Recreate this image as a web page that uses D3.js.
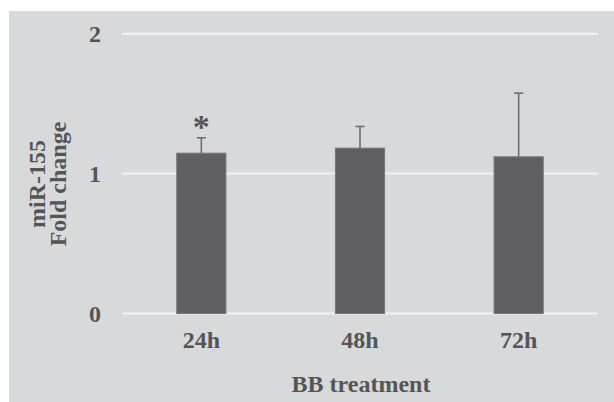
<!DOCTYPE html>
<html>
<head>
<meta charset="utf-8">
<script src="https://cdn.jsdelivr.net/npm/d3@7/dist/d3.min.js"></script>
<style>
  html, body { margin: 0; padding: 0; background: #ffffff; }
  svg { display: block; }
  text { font-family: "Liberation Serif", "Times New Roman", serif; font-weight: bold; fill: #555557; }
</style>
</head>
<body>
<svg id="chart" width="614" height="402"></svg>
<script>
const categories = ["24h", "48h", "72h"];
const values = [1.146, 1.182, 1.12];
const errors = [0.11, 0.155, 0.455];
const significance = ["*", "", ""];
const yTicks = [0, 1, 2];
const xTitle = "BB treatment";
const yTitleLines = ["miR-155", "Fold change"];

const W = 614, H = 402;
const margin = { left: 122, right: 16, top: 34, bottom: 88 };
const svg = d3.select("#chart");

svg.append("rect").attr("x", 9).attr("y", 11).attr("width", W - 9).attr("height", H - 11).attr("fill", "#d8d9db");

const x = d3.scaleBand().domain(categories).range([margin.left, W - margin.right])
  .paddingInner(0.69).paddingOuter(0.345);
const y = d3.scaleLinear().domain([0, 2]).range([313.5, 33.7]);

// gridlines
svg.append("g").selectAll("line").data(yTicks).join("line")
  .attr("x1", margin.left).attr("x2", W - margin.right)
  .attr("y1", d => y(d)).attr("y2", d => y(d))
  .attr("stroke", "#f2f2f3").attr("stroke-width", 2);

// y axis labels
const yAxis = d3.axisLeft(y).tickValues(yTicks).tickFormat(d3.format("d")).tickSize(0).tickPadding(0);
const gy = svg.append("g").attr("transform", "translate(101,0)").call(yAxis);
gy.select(".domain").remove();
gy.selectAll("text").attr("font-size", 24).attr("fill", "#555557")
  .attr("font-family", "Liberation Serif, Times New Roman, serif").attr("font-weight", "bold");

// bars
svg.append("g").selectAll("rect").data(values).join("rect")
  .attr("x", (d, i) => x(categories[i]))
  .attr("y", d => y(d))
  .attr("width", x.bandwidth())
  .attr("height", d => y(0) - y(d))
  .attr("fill", "#606062")
  .attr("stroke", "#777779").attr("stroke-width", 1);

// error bars
const eg = svg.append("g").attr("stroke", "#6c6c6e").attr("stroke-width", 1.6);
values.forEach((v, i) => {
  const cx = x(categories[i]) + x.bandwidth() / 2;
  eg.append("line").attr("x1", cx).attr("x2", cx).attr("y1", y(v)).attr("y2", y(v + errors[i]));
  eg.append("line").attr("x1", cx - 4.5).attr("x2", cx + 4.5).attr("y1", y(v + errors[i])).attr("y2", y(v + errors[i]));
});

// significance
svg.append("g").selectAll("text").data(significance).join("text")
  .attr("x", (d, i) => x(categories[i]) + x.bandwidth() / 2)
  .attr("y", (d, i) => y(values[i] + errors[i]) + 0)
  .attr("text-anchor", "middle").attr("font-size", 34).attr("fill", "#4a4a4c")
  .text(d => d);

// x axis labels
const xAxis = d3.axisBottom(x).tickSize(0).tickPadding(0);
const gx = svg.append("g").attr("transform", "translate(0,331)").call(xAxis);
gx.select(".domain").remove();
gx.selectAll("text").attr("font-size", 24).attr("fill", "#555557")
  .attr("font-family", "Liberation Serif, Times New Roman, serif").attr("font-weight", "bold");

// x title
svg.append("text").attr("x", (margin.left + W - margin.right) / 2 + 1).attr("y", 392)
  .attr("text-anchor", "middle").attr("font-size", 24).text(xTitle);

// y title
const yt = svg.append("text").attr("transform", "translate(45,184) rotate(-90)")
  .attr("text-anchor", "middle").attr("font-size", 24);
yTitleLines.forEach((t, i) => {
  yt.append("tspan").attr("x", 0).attr("dy", i === 0 ? 0 : 21).text(t);
});
</script>
</body>
</html>
